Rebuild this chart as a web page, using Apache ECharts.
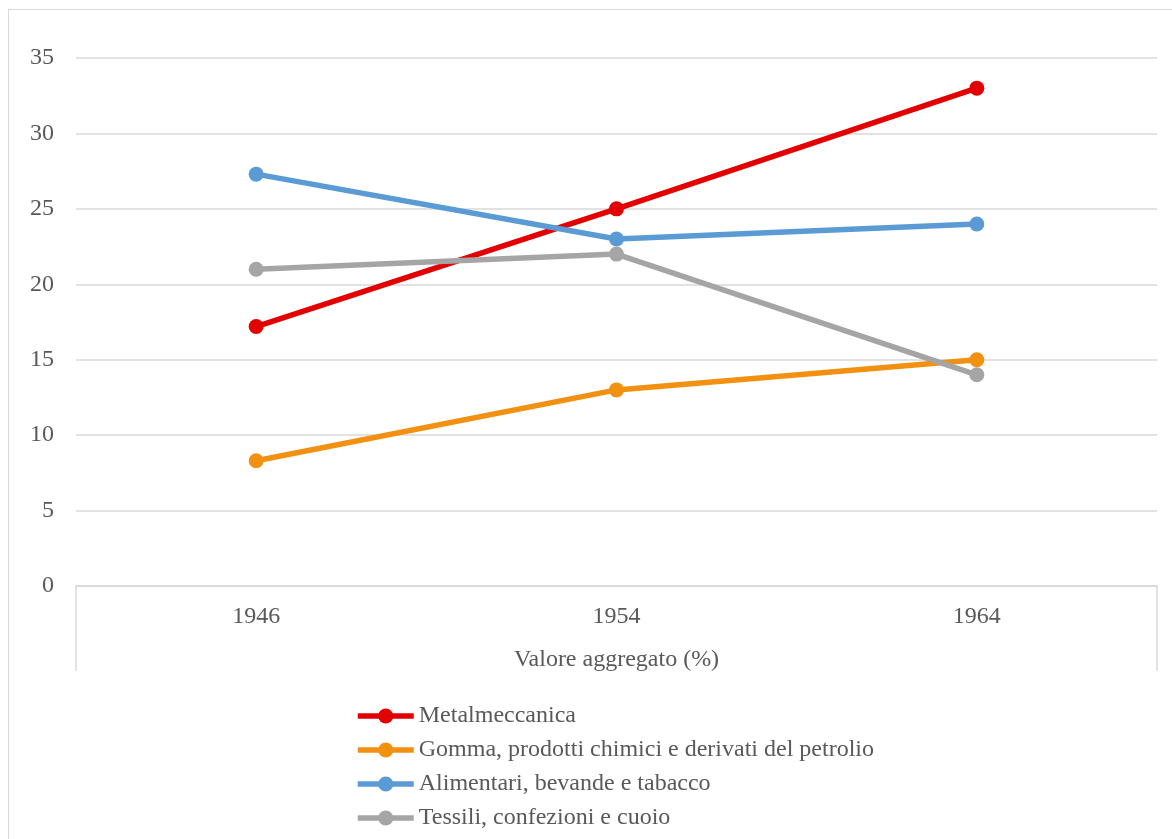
<!DOCTYPE html>
<html>
<head>
<meta charset="utf-8">
<script src="https://cdn.jsdelivr.net/npm/echarts@6/dist/echarts.min.js"></script>
<style>
html,body{margin:0;padding:0;background:#fff;overflow:hidden;}
#frame{position:absolute;left:8px;top:9px;width:1200px;height:900px;border:1px solid #d9d9d9;box-sizing:border-box;}
#chart{position:absolute;left:0;top:0;width:1172px;height:839px;}
</style>
</head>
<body>
<div id="frame"></div>
<div id="chart"></div>
<script>
const categories = ['1946', '1954', '1964'];
const axisTitle = 'Valore aggregato (%)';
const seriesNames = [
  'Metalmeccanica',
  'Gomma, prodotti chimici e derivati del petrolio',
  'Alimentari, bevande e tabacco',
  'Tessili, confezioni e cuoio'
];
const metalmeccanica = [17.2, 25, 33];
const gomma = [8.3, 13, 15];
const alimentari = [27.3, 23, 24];
const tessili = [21, 22, 14];
const colors = ['#E30000', '#F29111', '#5B9BD5', '#A5A5A5'];

const font = '"Liberation Serif", "Times New Roman", serif';
const txt = '#595959';
const allValues = [metalmeccanica, gomma, alimentari, tessili];

const chart = echarts.init(document.getElementById('chart'), null, {renderer: 'canvas'});
chart.setOption({
  animation: false,
  backgroundColor: 'transparent',
  grid: {left: 76, right: 15, top: 58, bottom: 253, containLabel: false},
  xAxis: {
    type: 'category',
    data: categories,
    boundaryGap: true,
    name: axisTitle,
    nameLocation: 'middle',
    nameGap: 62,
    nameTextStyle: {fontFamily: font, fontSize: 24, color: txt},
    axisLine: {show: true, lineStyle: {color: '#d9d9d9', width: 1.5}},
    axisTick: {show: true, length: 85, interval: function (i) { return i === 0; }, lineStyle: {color: '#d9d9d9', width: 1.5}},
    axisLabel: {margin: 19, fontFamily: font, fontSize: 24, color: txt},
    splitLine: {show: false}
  },
  yAxis: {
    type: 'value',
    min: 0, max: 35, interval: 5,
    axisLine: {show: false},
    axisTick: {show: false},
    axisLabel: {margin: 22, fontFamily: font, fontSize: 24, color: txt},
    splitLine: {lineStyle: {color: '#d9d9d9', width: 1.5}}
  },
  legend: {
    orient: 'vertical',
    left: 355, top: 704,
    padding: 0,
    itemWidth: 56, itemHeight: 19, itemGap: 10,
    lineStyle: {width: 5.5},
    textStyle: {fontFamily: font, fontSize: 24, color: txt, padding: [0,0,0,0]},
    data: seriesNames
  },
  series: seriesNames.map((n, i) => ({
    name: n,
    type: 'line',
    data: allValues[i],
    symbol: 'circle',
    symbolSize: 15,
    lineStyle: {width: 5.5, color: colors[i]},
    itemStyle: {color: colors[i]},
    color: colors[i]
  }))
});
</script>
</body>
</html>
